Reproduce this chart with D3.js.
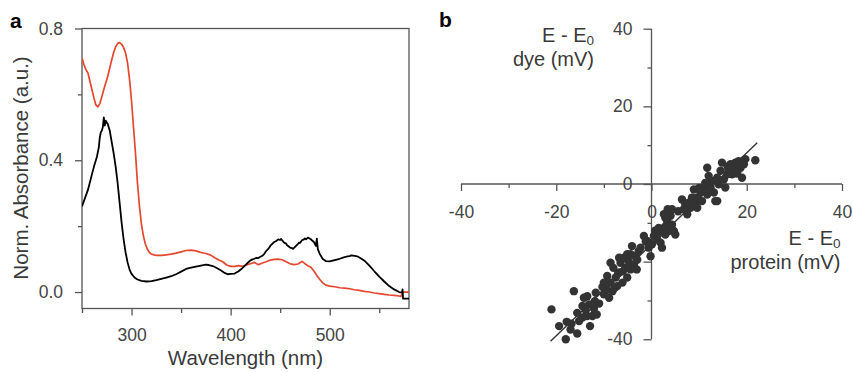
<!DOCTYPE html>
<html>
<head>
<meta charset="utf-8">
<script src="https://cdn.jsdelivr.net/npm/d3@7"></script>
<style>
  html, body { margin: 0; padding: 0; background: #fff; }
  svg { display: block; font-family: "Liberation Sans", Arial, sans-serif; }
</style>
</head>
<body>
<svg id="chart" width="853" height="372"></svg>
<script>
// ---------- Panel a data ----------
const blackWl = [250,253,256,259,262,265,267,268,269,270,271,272,273,274,275,276,278,280,282,284,286,288,290,292,294,296,298,300,303,306,310,315,320,325,330,335,340,345,350,355,360,365,370,375,378,382,386,390,394,397,400,404,408,412,416,420,422,424,426,428,430,432,434,436,438,440,442,444,446,448,450,451,452,454,456,457,460,462,463,464,466,468,469,470,472,474,475,476,478,480,481,482,484,485,486,487,488,490,493,496,500,505,510,515,518,520,522,525,528,530,535,540,545,550,555,560,565,570,573,573.5,574,580];
const blackAbs = [0.26,0.285,0.31,0.345,0.38,0.41,0.44,0.47,0.485,0.49,0.50,0.53,0.505,0.52,0.515,0.51,0.49,0.455,0.42,0.38,0.33,0.27,0.21,0.16,0.12,0.09,0.068,0.055,0.044,0.038,0.034,0.032,0.033,0.036,0.040,0.044,0.048,0.054,0.062,0.070,0.074,0.077,0.080,0.083,0.082,0.079,0.073,0.066,0.058,0.054,0.055,0.056,0.063,0.073,0.085,0.096,0.099,0.101,0.104,0.103,0.107,0.110,0.116,0.125,0.131,0.140,0.146,0.152,0.155,0.160,0.158,0.161,0.157,0.150,0.147,0.142,0.135,0.133,0.131,0.134,0.140,0.146,0.150,0.149,0.157,0.160,0.163,0.160,0.165,0.162,0.160,0.157,0.152,0.146,0.140,0.162,0.130,0.115,0.100,0.094,0.093,0.097,0.101,0.106,0.108,0.109,0.111,0.110,0.108,0.105,0.095,0.080,0.063,0.047,0.032,0.018,0.008,0.000,-0.002,0.008,-0.020,-0.020];

const redWl = [250,252,254,256,258,260,262,264,266,268,270,272,274,276,278,280,282,284,286,288,290,292,294,296,298,300,302,304,306,308,310,312,314,316,318,320,325,330,335,340,345,350,355,360,365,370,375,380,384,388,392,396,400,404,408,412,416,420,424,428,432,436,440,444,448,452,456,460,464,468,472,475,478,481,484,487,490,493,496,500,505,510,515,520,525,530,535,540,545,550,555,560,565,570,572,573,574,580];
const redAbs = [0.71,0.69,0.675,0.665,0.64,0.615,0.59,0.568,0.562,0.572,0.593,0.615,0.635,0.655,0.68,0.705,0.728,0.745,0.755,0.757,0.752,0.742,0.725,0.695,0.645,0.58,0.50,0.42,0.33,0.26,0.205,0.17,0.145,0.13,0.12,0.115,0.111,0.111,0.113,0.115,0.118,0.122,0.126,0.127,0.125,0.120,0.117,0.112,0.104,0.097,0.092,0.082,0.078,0.078,0.080,0.078,0.082,0.086,0.090,0.083,0.088,0.092,0.097,0.099,0.100,0.098,0.092,0.086,0.083,0.085,0.093,0.086,0.080,0.075,0.064,0.050,0.038,0.028,0.021,0.018,0.016,0.013,0.012,0.010,0.007,0.005,0.002,0.000,-0.003,-0.005,-0.007,-0.009,-0.010,-0.012,-0.013,-0.005,0.000,0.000];

const aXTicks = [300, 400, 500];
const aXMinor = [250, 350, 450, 550];
const aYTicks = [0.0, 0.4, 0.8];
const aYMinor = [0.2, 0.6];

// ---------- Panel b data ----------
const proteinE = [-21.0,-19.4,-18.0,-16.3,-17.8,-17.0,-15.6,-15.2,-15.6,-14.5,-14.2,-13.5,-13.1,-12.4,-11.9,-11.7,-13.5,-12.9,-14.5,-12.1,-11.5,
  -10.3,-10.0,-9.4,-8.9,-9.3,-8.6,-8.2,-8.0,-8.6,-7.5,-7.2,-6.8,-6.5,-6.1,-5.8,-5.5,-5.1,-4.8,-4.4,-4.1,-3.7,-3.4,-3.1,-2.7,-2.3,-4.4,-5.1,-6.8,-7.7,-10.0,
  -1.6,-0.9,-0.6,-0.2,0.1,0.5,1.2,1.9,2.2,2.6,1.9,2.9,3.3,3.6,4.0,4.3,2.9,2.6,3.6,4.7,5.0,3.4,4.3,1.5,
  6.4,7.1,7.5,8.2,8.5,8.9,9.2,9.6,10.3,10.6,11.0,11.3,11.7,12.0,12.4,12.7,13.1,13.4,13.8,14.1,14.5,14.8,15.2,15.5,15.9,16.2,16.6,16.9,17.3,17.6,17.9,18.3,18.7,19.0,19.4,19.7,21.8,9.6,7.8,6.8,11.7,13.8,
  -16.8,-13.8,-11.0,-9.8,-7.0,-6.0,-3.0,-1.2,0.8,3.0,5.6,10.0,12.2,16.0,18.0];
const dyeE = [-32.3,-36.6,-40.0,-27.6,-35.5,-37.5,-38.5,-35.3,-33.2,-31.4,-29.3,-28.9,-31.0,-34.0,-30.2,-28.0,-34.0,-36.6,-34.4,-32.1,-33.6,
  -26.5,-28.4,-27.1,-29.3,-23.7,-25.4,-27.6,-21.6,-20.3,-24.1,-26.3,-22.8,-20.3,-25.4,-19.0,-21.6,-24.1,-19.9,-18.1,-16.0,-20.8,-18.6,-22.0,-17.3,-16.4,-22.0,-18.1,-19.0,-26.7,-25.4,
  -13.4,-14.7,-16.4,-18.6,-15.5,-13.4,-14.3,-15.1,-16.4,-11.3,-12.5,-13.0,-9.5,-12.1,-8.2,-10.5,-8.7,-7.8,-7.0,-12.1,-13.0,-6.5,-6.5,-11.3,
  -4.0,-5.2,-7.8,-6.1,-3.5,-1.4,-5.2,-3.5,-2.2,-4.4,-0.9,0.3,4.2,2.1,-0.9,0.8,-2.2,-4.4,1.6,-0.1,3.4,5.5,1.2,-0.9,2.5,3.8,5.1,2.5,4.2,5.5,2.7,5.9,4.2,1.6,5.1,6.4,6.1,-6.1,-4.8,-6.5,-2.7,-4.4,
  -36.0,-32.5,-30.8,-27.8,-23.0,-22.5,-19.5,-14.8,-12.0,-10.8,-7.0,-1.0,-1.5,4.5,3.0];
const fitX = [-21.2, 22.2];
const fitY = [-40.5, 10.6];
const bTicks = [-40, -20, 0, 20, 40];
const bMinor = [-30, -10, 10, 30];
const bYLabelled = [-40, 0, 20, 40];

// ---------- Drawing ----------
const svg = d3.select("#chart");
const axisCol = "#555";
const textCol = "#444";
const fmtInt = d => String(d);   // plain hyphen-minus, as in the reference

// Panel a
const ax = d3.scaleLinear().domain([250, 580]).range([82, 409]);
const ay = d3.scaleLinear().domain([-0.05, 0.8]).range([308.5, 28.5]);
const ga = svg.append("g");

function styleAxis(g) {
  g.select(".domain").remove();
  g.selectAll(".tick line").attr("stroke", axisCol).attr("stroke-width", 1.3);
  g.selectAll(".tick text").attr("fill", textCol).attr("font-size", 17.5)
    .attr("font-family", '"Liberation Sans", Arial, sans-serif');
}

ga.append("g").attr("transform", "translate(82,0)")
  .call(d3.axisLeft(ay).tickValues(aYTicks).tickFormat(d => d.toFixed(1)).tickSize(7).tickPadding(12))
  .call(styleAxis);
ga.append("g").attr("transform", "translate(82,0)")
  .call(d3.axisLeft(ay).tickValues(aYMinor).tickFormat("").tickSize(4))
  .call(styleAxis);
ga.append("g").attr("transform", "translate(0,308.5)")
  .call(d3.axisBottom(ax).tickValues(aXTicks).tickFormat(fmtInt).tickSize(7).tickPadding(13))
  .call(styleAxis);
ga.append("g").attr("transform", "translate(0,308.5)")
  .call(d3.axisBottom(ax).tickValues(aXMinor).tickFormat("").tickSize(4.5))
  .call(styleAxis);

// frame
ga.append("rect")
  .attr("x", ax(250)).attr("y", ay(0.8))
  .attr("width", ax(580) - ax(250)).attr("height", ay(-0.05) - ay(0.8))
  .attr("fill", "none").attr("stroke", axisCol).attr("stroke-width", 1.3);

svg.append("clipPath").attr("id", "clipA").append("rect")
  .attr("x", ax(250)).attr("y", ay(0.8)).attr("width", ax(580) - ax(250)).attr("height", ay(-0.05) - ay(0.8));

const lineA = d3.line().x(d => ax(d[0])).y(d => ay(d[1]));
ga.append("path").datum(redWl.map((w, i) => [w, redAbs[i]]))
  .attr("d", lineA).attr("fill", "none").attr("stroke", "#e5472f").attr("stroke-width", 1.7)
  .attr("stroke-linejoin", "round").attr("clip-path", "url(#clipA)");
ga.append("path").datum(blackWl.map((w, i) => [w, blackAbs[i]]))
  .attr("d", lineA).attr("fill", "none").attr("stroke", "#000").attr("stroke-width", 1.8)
  .attr("stroke-linejoin", "round").attr("clip-path", "url(#clipA)");

ga.append("text").attr("transform", "translate(27.5,168) rotate(-90)")
  .attr("text-anchor", "middle").attr("font-size", 20.5).attr("fill", "#3a3a3a")
  .text("Norm. Absorbance (a.u.)");
ga.append("text").attr("x", 245.5).attr("y", 365)
  .attr("text-anchor", "middle").attr("font-size", 20.5).attr("fill", "#3a3a3a")
  .text("Wavelength (nm)");
ga.append("text").attr("x", 10).attr("y", 28).attr("font-size", 21).attr("font-weight", "bold")
  .attr("fill", "#000").text("a");

// Panel b
const bx = d3.scaleLinear().domain([-40, 40]).range([461, 842]);
const by = d3.scaleLinear().domain([-40, 40]).range([339.3, 28.7]);
const gb = svg.append("g");

gb.append("line").attr("x1", bx(-40)).attr("x2", bx(40)).attr("y1", by(0)).attr("y2", by(0))
  .attr("stroke", axisCol).attr("stroke-width", 1.3);
gb.append("line").attr("x1", bx(0)).attr("x2", bx(0)).attr("y1", by(40)).attr("y2", by(-40))
  .attr("stroke", axisCol).attr("stroke-width", 1.3);

gb.append("g").attr("transform", `translate(0,${by(0)})`)
  .call(d3.axisBottom(bx).tickValues(bTicks).tickFormat(fmtInt).tickSize(7).tickPadding(14.5))
  .call(styleAxis);
gb.append("g").attr("transform", `translate(0,${by(0)})`)
  .call(d3.axisBottom(bx).tickValues(bMinor).tickFormat("").tickSize(4))
  .call(styleAxis);
gb.append("g").attr("transform", `translate(${bx(0)},0)`)
  .call(d3.axisLeft(by).tickValues(bTicks).tickFormat(d => bYLabelled.includes(d) ? fmtInt(d) : "").tickSize(8).tickPadding(11))
  .call(styleAxis);
gb.append("g").attr("transform", `translate(${bx(0)},0)`)
  .call(d3.axisLeft(by).tickValues(bMinor).tickFormat("").tickSize(4))
  .call(styleAxis);

gb.append("line")
  .attr("x1", bx(fitX[0])).attr("y1", by(fitY[0]))
  .attr("x2", bx(fitX[1])).attr("y2", by(fitY[1]))
  .attr("stroke", "#333").attr("stroke-width", 1.4);

gb.append("g").selectAll("circle").data(proteinE.map((p, i) => [p, dyeE[i]]))
  .join("circle").attr("cx", d => bx(d[0])).attr("cy", d => by(d[1])).attr("r", 4.2)
  .attr("fill", "#333");

function subLabel(x, y, main) {
  const t = gb.append("text").attr("x", x).attr("y", y).attr("text-anchor", "end")
    .attr("font-size", 20).attr("fill", "#3a3a3a");
  t.append("tspan").text(main);
  t.append("tspan").attr("font-size", 13.5).attr("dy", 3).text("0");
}
subLabel(594, 42, "E - E");
gb.append("text").attr("x", 594).attr("y", 66).attr("text-anchor", "end")
  .attr("font-size", 20).attr("fill", "#3a3a3a").text("dye (mV)");
subLabel(840.5, 245, "E - E");
gb.append("text").attr("x", 840.5).attr("y", 269).attr("text-anchor", "end")
  .attr("font-size", 20).attr("fill", "#3a3a3a").text("protein (mV)");
gb.append("text").attr("x", 439).attr("y", 27).attr("font-size", 21).attr("font-weight", "bold")
  .attr("fill", "#000").text("b");
</script>
</body>
</html>
